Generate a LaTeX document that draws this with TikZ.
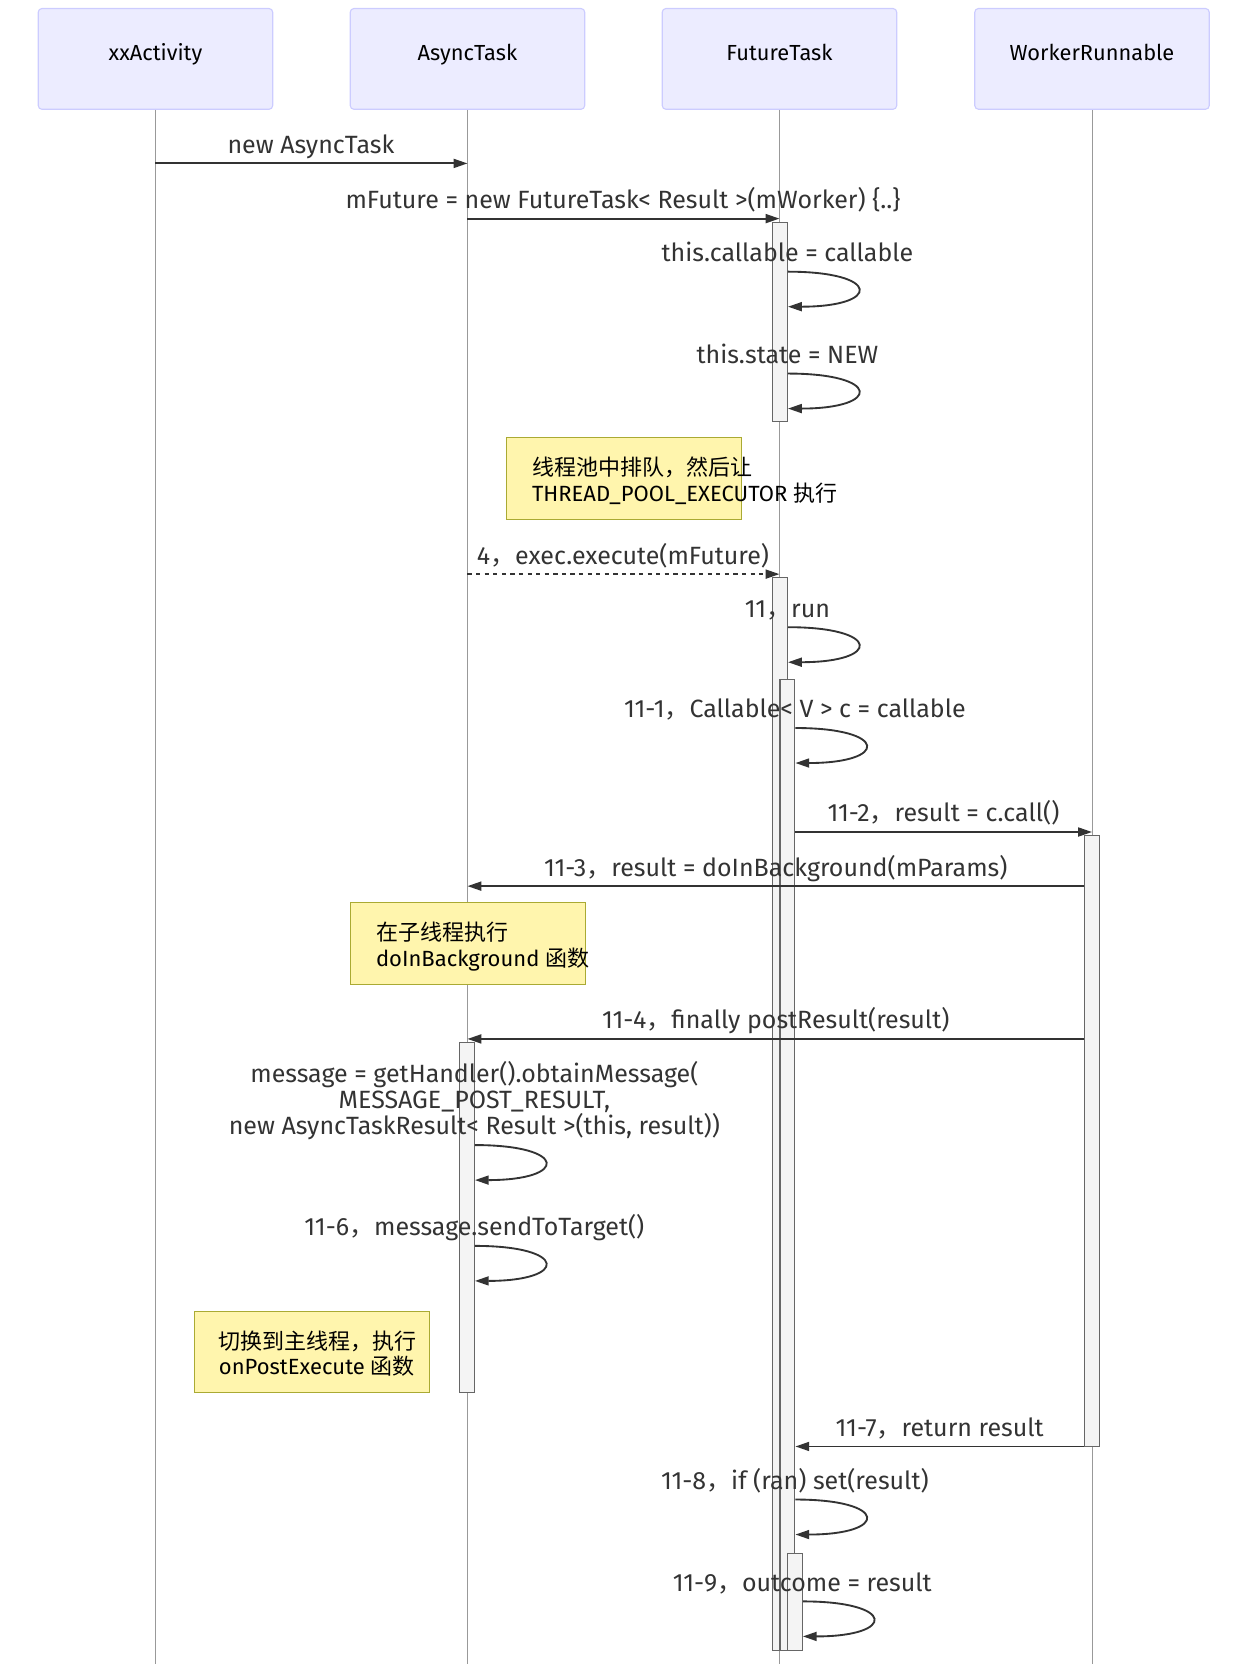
\documentclass[tikz,border=0pt]{standalone}
\usepackage{fontspec}
\setmainfont{Fira Sans}
\newfontfamily\cjk{Noto Sans CJK SC}
\usetikzlibrary{arrows.meta}
\definecolor{actorfill}{HTML}{ECECFF}
\definecolor{actorline}{HTML}{CCCCFF}
\definecolor{notefill}{HTML}{FFF5AD}
\definecolor{noteline}{HTML}{AAAA33}
\definecolor{msgtext}{HTML}{333333}
\definecolor{lifecol}{HTML}{999999}
\definecolor{barfill}{HTML}{F4F4F4}
\definecolor{barline}{HTML}{666666}
\newcommand{\zh}[1]{{\cjk #1}}
\tikzset{
  actor/.style={draw=actorline,fill=actorfill,rounded corners=2pt,line width=0.6pt,
    minimum width=4.42cm,minimum height=1.9cm,text height=8pt,text depth=6.5pt,
    font=\fontsize{11.7}{14}\selectfont},
  life/.style={draw=lifecol,line width=0.5pt},
  bar/.style={draw=barline,fill=barfill,line width=0.6pt,minimum width=0.28cm,inner sep=0pt,anchor=north},
  msg/.style={draw=msgtext,line width=1pt,-{Triangle[length=7.4pt,width=4.8pt]}},
  selfmsg/.style={msg},
  lbl/.style={text=msgtext,anchor=base,inner sep=0pt,align=center,font=\fontsize{13.4}{14.2}\selectfont},
  note/.style={draw=noteline,fill=notefill,line width=0.6pt,anchor=north west,minimum width=4.42cm,minimum height=1.54cm},
  notetext/.style={anchor=base west,inner sep=0pt,align=left,font=\fontsize{11.8}{13.66}\selectfont}
}
\begin{document}
\begin{tikzpicture}[x=0.02cm,y=-0.02cm]
\useasboundingbox (0,0) rectangle (1170,1568);
\node[actor] (act) at (146.5,55.5) {xxActivity};
\node[actor] (asy) at (440.5,55.5) {AsyncTask};
\node[actor] (fut) at (734.5,55.5) {FutureTask};
\node[actor] (wrk) at (1029,55.5) {WorkerRunnable};
\draw[life] (act.south) -- (act |- 0,1568);
\draw[life] (asy.south) -- (asy |- 0,1568);
\draw[life] (fut.south) -- (fut |- 0,1568);
\draw[life] (wrk.south) -- (wrk |- 0,1568);
\node[bar,minimum height=3.76cm] (fb1) at (735,209) {};
\node[bar,minimum height=20.22cm] (fb2) at (735,544) {};
\node[bar,minimum height=18.3cm] (fb3) at (742,640) {};
\node[bar,minimum height=11.52cm] (wb1) at (1029,787) {};
\node[bar,minimum height=6.6cm] (ab1) at (440,982) {};
\node[bar,minimum height=1.84cm] (fb4) at (749,1463) {};
\draw[msg] (act |- 0,154) -- (asy |- 0,154);
\draw[msg] (asy |- 0,206) -- (fut |- 0,206);
\draw[selfmsg] (fb1.east |- 0,256) .. controls +(88,0) and +(88,0) .. (fb1.east |- 0,289);
\draw[selfmsg] (fb1.east |- 0,352) .. controls +(88,0) and +(88,0) .. (fb1.east |- 0,385);
\draw[msg,dash pattern=on 2.3pt off 2.3pt] (asy |- 0,541) -- (fut |- 0,541);
\draw[selfmsg] (fb2.east |- 0,591) .. controls +(88,0) and +(88,0) .. (fb2.east |- 0,624);
\draw[selfmsg] (fb3.east |- 0,686) .. controls +(88,0) and +(88,0) .. (fb3.east |- 0,719);
\draw[msg] (fb3.east |- 0,784) -- (wrk |- 0,784);
\draw[msg] (wb1.west |- 0,835) -- (asy |- 0,835);
\draw[msg] (wb1.west |- 0,979) -- (asy |- 0,979);
\draw[selfmsg] (ab1.east |- 0,1079) .. controls +(88,0) and +(88,0) .. (ab1.east |- 0,1112);
\draw[selfmsg] (ab1.east |- 0,1174) .. controls +(88,0) and +(88,0) .. (ab1.east |- 0,1207);
\draw[msg] (wb1.west |- 0,1363) -- (fb3.east |- 0,1363);
\draw[selfmsg] (fb3.east |- 0,1413) .. controls +(88,0) and +(88,0) .. (fb3.east |- 0,1446);
\draw[selfmsg] (fb4.east |- 0,1509) .. controls +(88,0) and +(88,0) .. (fb4.east |- 0,1542);
\node[note] (n1) at (477,412) {};
\node[note] (n2) at (330,850) {};
\node[note] (n3) at (183,1235) {};
\node[notetext] (n1t) at (501,472.5) {\zh{线程池中排队，然后让}\\THREAD\_POOL\_EXECUTOR \zh{执行}};
\node[notetext] (n2t) at (354,910.5) {\zh{在子线程执行}\\doInBackground \zh{函数}};
\node[notetext] (n3t) at (206,1295.5) {\zh{切换到主线程，执行}\\onPostExecute \zh{函数}};
\node[lbl] (t1) at (293,144.5) {new AsyncTask};
\node[lbl] (t2) at (587,196.5) {mFuture = new FutureTask< Result >(mWorker) \{..\}};
\node[lbl] (t3) at (742,246.5) {this.callable = callable};
\node[lbl] (t4) at (742,342.5) {this.state = NEW};
\node[lbl] (t5) at (587,531.5) {4\zh{，}exec.execute(mFuture)};
\node[lbl] (t6) at (742,581.5) {11\zh{，}run};
\node[lbl] (t7) at (749,676.5) {11-1\zh{，}Callable< V > c = callable};
\node[lbl] (t8) at (889,774.5) {11-2\zh{，}result = c.call()};
\node[lbl] (t9) at (731,825.5) {11-3\zh{，}result = doInBackground(mParams)};
\node[lbl] (t10) at (731,969.5) {11-4\zh{，}finally postResult(result)};
\node[lbl] (t11) at (447,1069.5) {message = getHandler().obtainMessage(\\MESSAGE\_POST\_RESULT,\\new AsyncTaskResult< Result >(this, result))};
\node[lbl] (t12) at (447,1164.5) {11-6\zh{，}message.sendToTarget()};
\node[lbl] (t13) at (885.5,1353.5) {11-7\zh{，}return result};
\node[lbl] (t14) at (749,1403.5) {11-8\zh{，}if (ran) set(result)};
\node[lbl] (t15) at (756,1499.5) {11-9\zh{，}outcome = result};
\end{tikzpicture}
\end{document}
